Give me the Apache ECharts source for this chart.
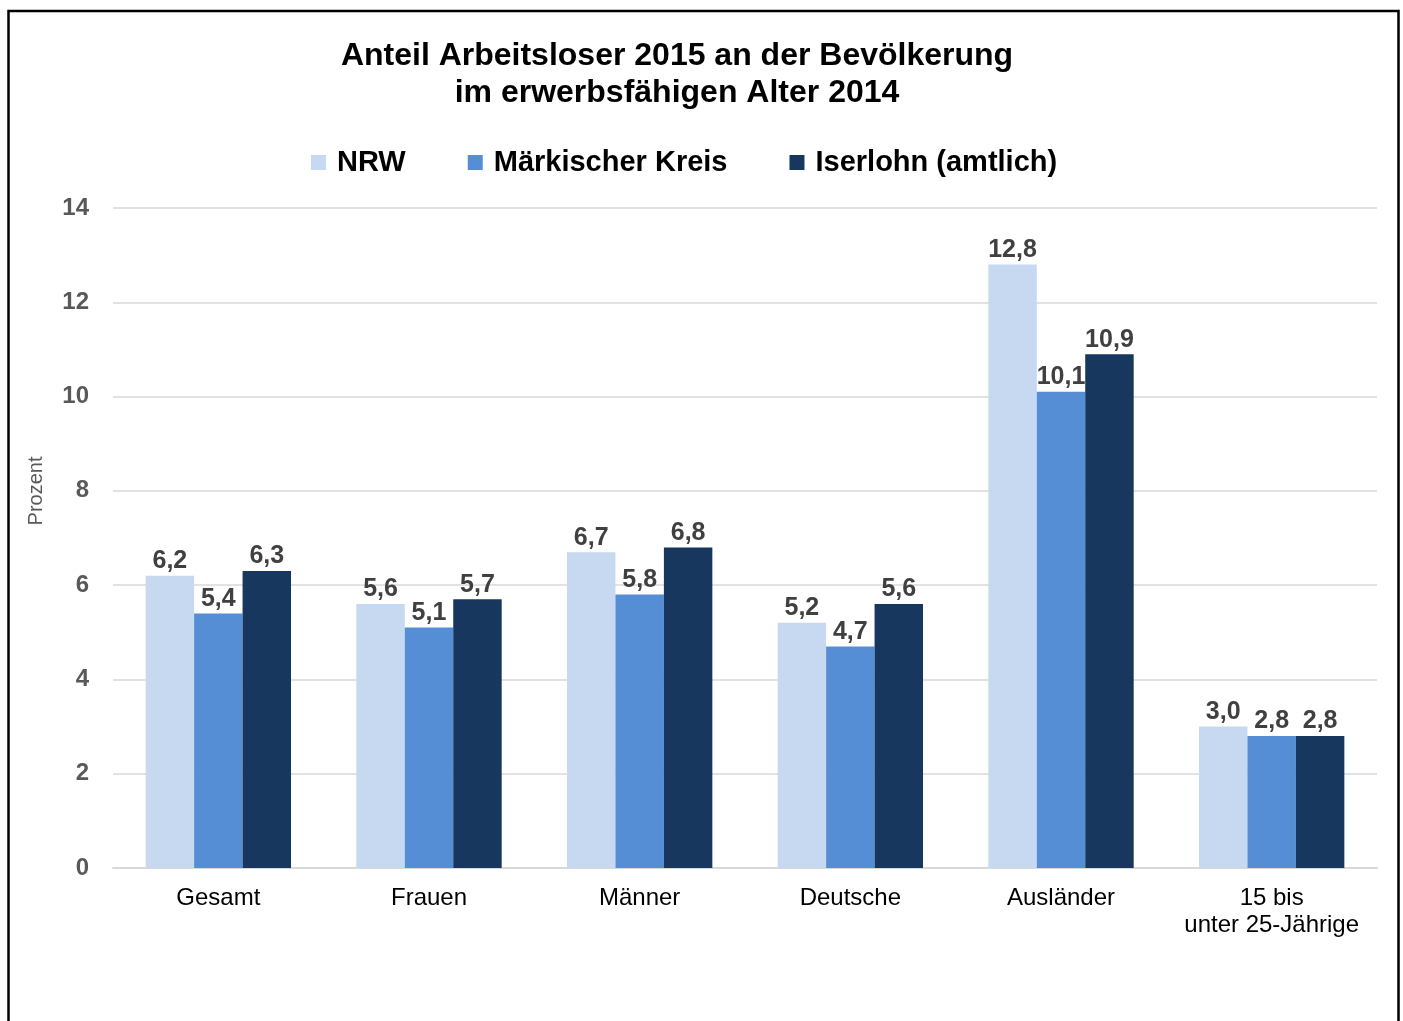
<!DOCTYPE html>
<html><head><meta charset="utf-8">
<script src="https://cdn.jsdelivr.net/npm/echarts@6/dist/echarts.min.js"></script>
<style>html,body{margin:0;padding:0;background:#fff}#c{width:1403px;height:1021px}</style>
</head><body><div id="c"></div>
<script>
const categories = ['Gesamt', 'Frauen', 'Männer', 'Deutsche', 'Ausländer', '15 bis\nunter 25-Jährige'];
const seriesNames = ['NRW', 'Märkischer Kreis', 'Iserlohn (amtlich)'];
const nrw = [6.2, 5.6, 6.7, 5.2, 12.8, 3.0];
const mk = [5.4, 5.1, 5.8, 4.7, 10.1, 2.8];
const iserlohn = [6.3, 5.7, 6.8, 5.6, 10.9, 2.8];
const yTicks = [0, 2, 4, 6, 8, 10, 12, 14];
const colors = ['#C6D9F1', '#558ED5', '#17375E'];

const font = '"Liberation Sans", Arial, sans-serif';
const chart = echarts.init(document.getElementById('c'));
const mkSeries = (name, data, color) => ({
  name, type: 'bar', data, barGap: '0%', barCategoryGap: '31%',
  itemStyle: { color },
  label: { show: true, position: 'top', distance: 2, color: '#404040', fontFamily: font, fontWeight: 'bold', fontSize: 25,
    formatter: p => p.value.toFixed(1).replace('.', ',') }
});
chart.setOption({
  animation: false,
  textStyle: { fontFamily: font },
  graphic: [
    { type: 'rect', shape: { x: 8.5, y: 11, width: 1390, height: 1100 }, style: { fill: 'none', stroke: '#000', lineWidth: 2.5 } },
    { type: 'text', x: 36, y: 491, rotation: Math.PI / 2,
      style: { text: 'Prozent', fill: '#595959', font: '20px "Liberation Sans", Arial, sans-serif', textAlign: 'center', textVerticalAlign: 'middle' } }
  ],
  title: { text: 'Anteil Arbeitsloser 2015 an der Bevölkerung\nim erwerbsfähigen Alter 2014', left: 672, textAlign: 'center', top: 33,
    textStyle: { fontFamily: font, fontWeight: 'bold', fontSize: 32, color: '#000', lineHeight: 37 } },
  legend: { top: 143, left: 306, itemWidth: 15, itemHeight: 15, itemGap: 62, icon: 'rect',
    textStyle: { fontFamily: font, fontWeight: 'bold', fontSize: 29, color: '#000', padding: [0, 0, 0, 6] },
    data: seriesNames },
  grid: { left: 113, right: 26, top: 208, bottom: 153, containLabel: false },
  xAxis: { type: 'category', data: categories,
    axisLine: { lineStyle: { color: '#D9D9D9', width: 2 } }, axisTick: { show: false },
    axisLabel: { interval: 0, color: '#000', fontSize: 24, fontFamily: font, margin: 17, lineHeight: 27 } },
  yAxis: { type: 'value', min: 0, max: 14, interval: 2,
    axisLine: { show: false }, axisTick: { show: false },
    splitLine: { lineStyle: { color: '#D9D9D9', width: 1.5 } },
    axisLabel: { color: '#595959', fontSize: 24, fontWeight: 'bold', fontFamily: font, margin: 24 } },
  series: [mkSeries(seriesNames[0], nrw, colors[0]), mkSeries(seriesNames[1], mk, colors[1]), mkSeries(seriesNames[2], iserlohn, colors[2])]
});
</script></body></html>
